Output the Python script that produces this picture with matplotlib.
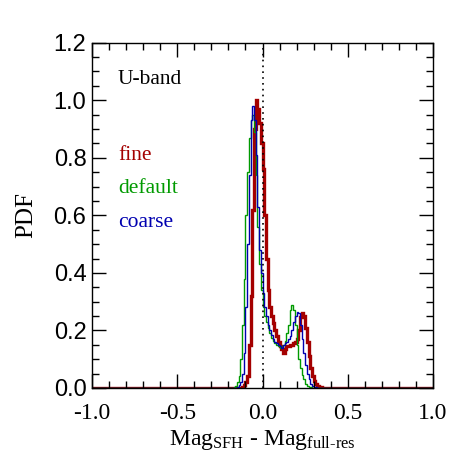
import numpy as np
import matplotlib
matplotlib.use("Agg")
import matplotlib.pyplot as plt
from matplotlib.ticker import MultipleLocator

plt.rcParams['mathtext.fontset'] = 'custom'
plt.rcParams['mathtext.rm'] = 'Liberation Serif'
plt.rcParams['mathtext.it'] = 'Liberation Serif:italic'

# Histogram data: bin width 0.01, values listed from a starting left edge
bin_width = 0.01
fine_start = -0.12
fine_vals = [0.005, 0.01, 0.02, 0.04, 0.15, 0.32, 0.62, 0.90, 1.00, 0.97,
             0.92, 0.85, 0.76, 0.60, 0.45, 0.34, 0.28, 0.25, 0.225, 0.20,
             0.18, 0.16, 0.145, 0.135, 0.12, 0.135, 0.145, 0.145, 0.15, 0.15,
             0.155, 0.16, 0.17, 0.20, 0.245, 0.26, 0.25, 0.21, 0.16, 0.11,
             0.07, 0.04, 0.025, 0.015, 0.008, 0.004, 0.002, 0.001]

default_start = -0.17
default_vals = [0.003, 0.008, 0.02, 0.04, 0.10, 0.22, 0.38, 0.60, 0.75, 0.87,
                0.93, 0.95, 0.89, 0.74, 0.56, 0.43, 0.34, 0.28, 0.25, 0.23,
                0.21, 0.19, 0.175, 0.165, 0.155, 0.15, 0.145, 0.14, 0.145, 0.15,
                0.165, 0.19, 0.22, 0.27, 0.29, 0.27, 0.22, 0.15, 0.10, 0.07,
                0.045, 0.03, 0.015, 0.008, 0.004, 0.002]

coarse_start = -0.15
coarse_vals = [0.003, 0.01, 0.02, 0.05, 0.12, 0.28, 0.50, 0.74, 0.93, 0.98,
               0.93, 0.81, 0.63, 0.48, 0.40, 0.33, 0.28, 0.25, 0.22, 0.20,
               0.185, 0.17, 0.16, 0.155, 0.15, 0.145, 0.14, 0.15, 0.155, 0.16,
               0.17, 0.18, 0.20, 0.23, 0.25, 0.265, 0.26, 0.22, 0.17, 0.12,
               0.08, 0.05, 0.03, 0.015, 0.008, 0.004, 0.002]

series_names = ['fine', 'default', 'coarse']
series_colors = ['#a40000', '#009a00', '#0000b0']
series_widths = [2.4, 1.0, 1.0]

def full_hist(start, vals):
    edges = np.round(np.arange(-1.0, 1.0 + bin_width / 2, bin_width), 4)
    counts = np.zeros(len(edges) - 1)
    i0 = int(round((start + 1.0) / bin_width))
    counts[i0:i0 + len(vals)] = vals
    return edges, counts

fig = plt.figure(figsize=(4.72, 4.72), dpi=100)
ax = fig.add_axes([0.1949, 0.178, 0.7225, 0.7315])

for (start, vals), c, lw in zip([(fine_start, fine_vals), (default_start, default_vals),
                                 (coarse_start, coarse_vals)],
                                series_colors, series_widths):
    edges, counts = full_hist(start, vals)
    ax.stairs(counts, edges, color=c, linewidth=lw, baseline=None)

ax.axvline(0.0, color='black', linestyle=(0, (1, 2.5)), linewidth=1.2)

ax.set_xlim(-1.0, 1.0)
ax.set_ylim(0.0, 1.2)
ax.xaxis.set_major_locator(MultipleLocator(0.5))
ax.xaxis.set_minor_locator(MultipleLocator(0.1))
ax.yaxis.set_major_locator(MultipleLocator(0.2))
ax.yaxis.set_minor_locator(MultipleLocator(0.05))
ax.tick_params(which='both', direction='in', top=True, right=True, width=1.0)
ax.tick_params(which='major', length=10)
ax.tick_params(which='minor', length=5)
ax.tick_params(axis='x', pad=11)
ax.tick_params(axis='y', pad=4)

ax.set_xticklabels([f'{v:.1f}' for v in ax.get_xticks()], family='Liberation Serif', fontsize=17)
ax.set_yticklabels([f'{v:.1f}' for v in ax.get_yticks()], family='Liberation Sans', fontsize=17)
ax.set_xlim(-1.0, 1.0)
ax.set_ylim(0.0, 1.2)

for sp in ax.spines.values():
    sp.set_linewidth(1.0)

ax.set_xlabel(r'Mag$_\mathrm{SFH}$ - Mag$_\mathrm{full\text{-}res}$',
              family='Liberation Serif', fontsize=17, labelpad=3)
ax.set_ylabel('PDF', family='Liberation Serif', fontsize=18, labelpad=12)

ax.text(-0.848, 1.057, 'U-band', family='Liberation Serif', fontsize=15.5, color='black')
for name, c, y in zip(series_names, series_colors, [0.793, 0.678, 0.56]):
    ax.text(-0.848, y, name, family='Liberation Serif', fontsize=15.5, color=c)

fig.savefig('out.png', dpi=100)
